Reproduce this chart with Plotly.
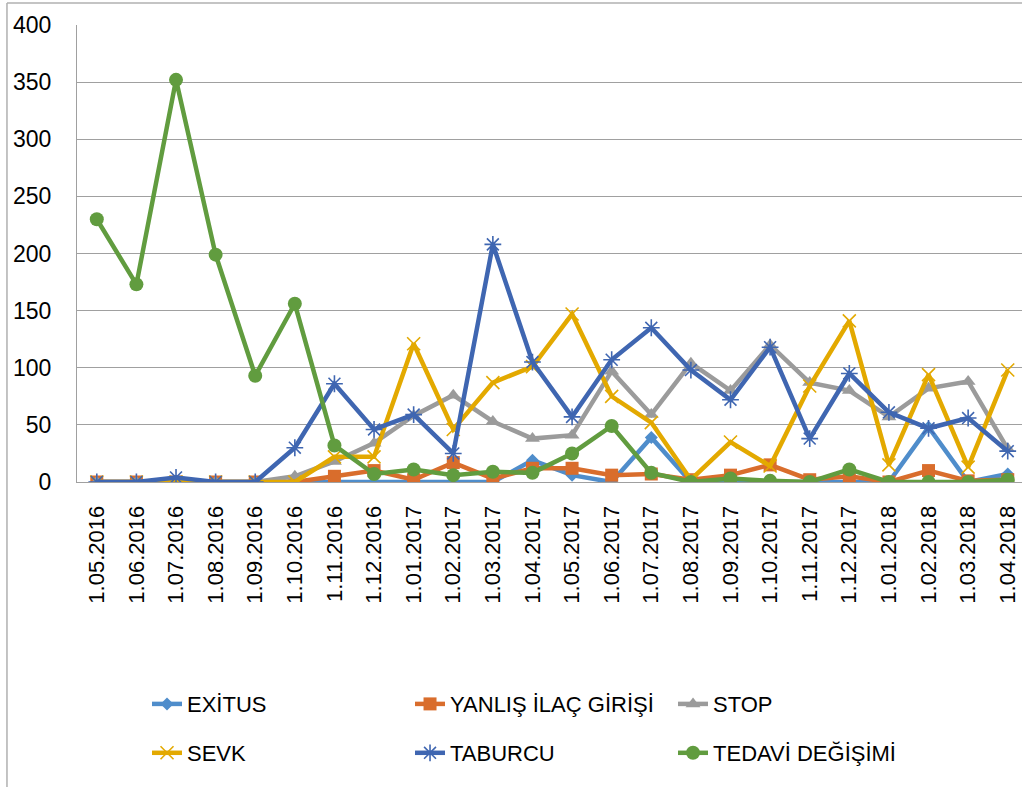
import plotly.graph_objects as go

months = ["1.05.2016", "1.06.2016", "1.07.2016", "1.08.2016", "1.09.2016", "1.10.2016",
          "1.11.2016", "1.12.2016", "1.01.2017", "1.02.2017", "1.03.2017", "1.04.2017",
          "1.05.2017", "1.06.2017", "1.07.2017", "1.08.2017", "1.09.2017", "1.10.2017",
          "1.11.2017", "1.12.2017", "1.01.2018", "1.02.2018", "1.03.2018", "1.04.2018"]

exitus = [0, 0, 0, 0, 0, 0, 0, 0, 0, 0, 0, 19, 6, 0, 39, 0, 0, 0, 0, 0, 0, 48, 0, 7]
yanlis = [0, 0, 0, 0, 0, 0, 5, 10, 2, 17, 3, 12, 12, 6, 7, 2, 6, 15, 2, 5, 0, 10, 1, 2]
stop = [0, 0, 0, 0, 0, 5, 18, 34, 58, 76, 53, 38, 41, 97, 59, 104, 80, 120, 87, 80, 57, 82, 88, 29]
sevk = [0, 0, 0, 0, 0, 0, 22, 22, 121, 46, 87, 101, 147, 75, 52, 2, 35, 14, 84, 141, 15, 94, 13, 98]
taburcu = [0, 0, 4, 0, 0, 30, 86, 46, 59, 25, 208, 105, 57, 107, 135, 98, 72, 118, 38, 95, 61, 47, 56, 27]
tedavi = [230, 173, 352, 199, 93, 156, 32, 7, 11, 6, 9, 8, 25, 49, 8, 0, 3, 1, 0, 11, 0, 0, 0, 2]

series = [
    ("EXİTUS", exitus, "#4F8DCB", dict(symbol="diamond", size=10), "legend"),
    ("YANLIŞ İLAÇ GİRİŞİ", yanlis, "#D96D2C", dict(symbol="square", size=13), "legend"),
    ("STOP", stop, "#9B9B9B", dict(symbol="triangle-up", size=13), "legend"),
    ("SEVK", sevk, "#E3A900", dict(symbol="x-thin-open", size=13, line=dict(width=1.6, color="#E3A900")), "legend2"),
    ("TABURCU", taburcu, "#3F66B1", dict(symbol="asterisk-open", size=14, line=dict(width=1.6, color="#3F66B1")), "legend2"),
    ("TEDAVİ DEĞİŞİMİ", tedavi, "#619C3F", dict(symbol="circle", size=14), "legend2"),
]

fig = go.Figure()
for name, vals, color, marker, leg in series:
    m = dict(color=color)
    m.update(marker)
    fig.add_trace(go.Scatter(
        x=months, y=vals, name=name, mode="lines+markers",
        line=dict(color=color, width=4.5), marker=m, legend=leg,
    ))

FONT = "Liberation Sans, Arial, sans-serif"
legend_common = dict(
    orientation="h", xanchor="left", yanchor="middle",
    x=0.0741, entrywidth=218, entrywidthmode="pixels",
    font=dict(family=FONT, size=22, color="#000000"),
    bgcolor="rgba(0,0,0,0)", traceorder="normal",
)

fig.update_layout(
    width=1022, height=787,
    margin=dict(l=77, r=0, t=25, b=305, autoexpand=False),
    paper_bgcolor="white", plot_bgcolor="white",
    font=dict(family=FONT, size=22, color="#000000"),
    legend=dict(legend_common, y=-0.486),
    legend2=dict(legend_common, y=-0.593),
    xaxis=dict(
        type="category", range=[-0.5, 23.36], showgrid=False,
        showline=True, linecolor="#A0A0A0", linewidth=1,
        tickangle=-90, ticks="", ticklabelstandoff=14,
        tickfont=dict(family=FONT, size=22, color="#000000"),
    ),
    yaxis=dict(
        range=[0, 400], dtick=50, showgrid=True, gridcolor="#A0A0A0", gridwidth=1,
        showline=True, linecolor="#A0A0A0", linewidth=1, zeroline=False,
        ticks="", ticklabelstandoff=20,
        tickfont=dict(family=FONT, size=23, color="#000000"),
    ),
    shapes=[
        dict(type="line", xref="paper", yref="paper", x0=-0.0741, x1=1.05, y0=1.0482, y1=1.0482,
             line=dict(color="#B0B0B0", width=1.5)),
        dict(type="line", xref="paper", yref="paper", x0=-0.0741, x1=-0.0741, y0=1.0482, y1=-0.7,
             line=dict(color="#B0B0B0", width=1.5)),
    ],
)

fig.write_html(
    "out.html",
    config={"displayModeBar": False},
    post_script="document.body.style.margin='0';document.body.style.padding='0';",
)
